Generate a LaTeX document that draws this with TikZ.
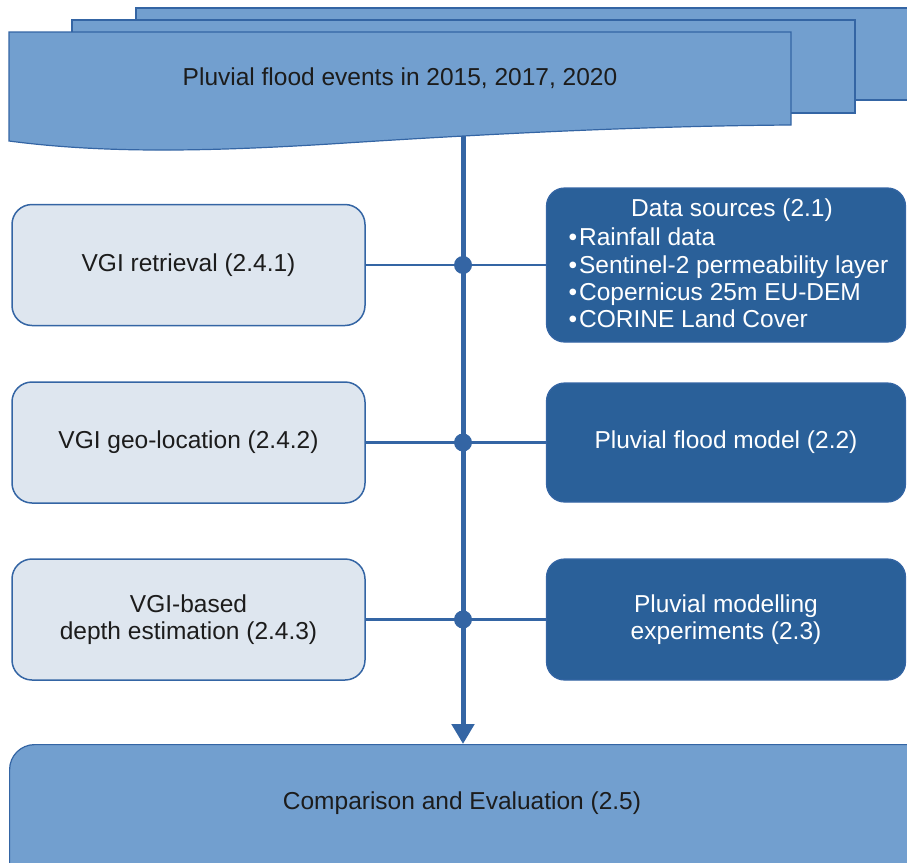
\documentclass[tikz,border=0pt]{standalone}
\usepackage{fontspec}
\setmainfont{Liberation Sans}
\usetikzlibrary{arrows.meta}
\definecolor{midblue}{HTML}{729FCF}
\definecolor{edgeblue}{HTML}{3465A4}
\definecolor{darkfill}{HTML}{2A6099}
\definecolor{lightfill}{HTML}{DEE6EF}
\definecolor{txt}{HTML}{1C1C1C}
\begin{document}
\begin{tikzpicture}[x=1pt,y=-1pt,
  every node/.style={font=\fontsize{24.5}{27.3}\selectfont},
  lbox/.style={draw=edgeblue,line width=1.5pt,fill=lightfill,rounded corners=20pt,minimum width=353pt,minimum height=121pt,align=center,text=txt,inner sep=0pt},
  dbox/.style={draw=edgeblue,line width=1.2pt,fill=darkfill,rounded corners=18pt,minimum width=359pt,align=center,text=white,inner sep=0pt},
  sheet/.style={draw=edgeblue,line width=1.2pt,fill=midblue},
  link/.style={draw=edgeblue,line width=2.5pt},
  trunk/.style={draw=edgeblue,line width=5pt,-{Triangle[length=20pt,width=22pt]}},
  junction/.style={circle,fill=edgeblue,minimum size=18pt,inner sep=0pt}]
\useasboundingbox (0,0) rectangle (907,862);
\begin{scope}
\clip (0,0) rectangle (907,862);
\draw[sheet] (136,8) rectangle (930,100);
\draw[sheet] (72,20) rectangle (855,113);
\draw[sheet] (9,32) -- (791,32) -- (791,125) .. controls (650,126) and (500,133) .. (330,144) .. controls (200,152) and (100,153) .. (9,141) -- cycle;
\node[draw=edgeblue,line width=1.2pt,fill=midblue,rounded corners=25pt,minimum width=930pt,minimum height=150pt,anchor=north west,inner sep=0pt] (cmp) at (9,744) {};
\end{scope}
\node[text=txt] (events) at (400,78) {Pluvial flood events in 2015, 2017, 2020};
\node[text=txt] (cmptext) at (462,803) {Comparison and Evaluation (2.5)};

\node[lbox] (vgi1) at (188.5,265) {VGI retrieval (2.4.1)};
\node[lbox] (vgi2) at (188.5,442.5) {VGI geo-location (2.4.2)};
\node[lbox] (vgi3) at (188.5,619.5) {VGI-based\\depth estimation (2.4.3)};

\node[dbox,minimum height=154pt] (ds) at (726,265) {};
\node[text=white] (dstitle) at (732,210) {Data sources (2.1)};
\node[text=white,anchor=west,align=left] (dslist) at (565,278) {•\hspace{2pt}Rainfall data\\•\hspace{2pt}Sentinel-2 permeability layer\\•\hspace{2pt}Copernicus 25m EU-DEM\\•\hspace{2pt}CORINE Land Cover};
\node[dbox,minimum height=119pt] (pfm) at (726,442.5) {Pluvial flood model (2.2)};
\node[dbox,minimum height=121pt] (pme) at (726,619.5) {Pluvial modelling\\experiments (2.3)};

\coordinate (docbot) at (463,136);
\draw[link] (vgi1.east) -- (vgi1.east -| ds.west);
\draw[link] (vgi2.east) -- (vgi2.east -| pfm.west);
\draw[link] (vgi3.east) -- (vgi3.east -| pme.west);
\draw[trunk] (docbot) -- (docbot |- cmp.north);
\node[junction] (j1) at (docbot |- vgi1.east) {};
\node[junction] (j2) at (docbot |- vgi2.east) {};
\node[junction] (j3) at (docbot |- vgi3.east) {};
\end{tikzpicture}
\end{document}
